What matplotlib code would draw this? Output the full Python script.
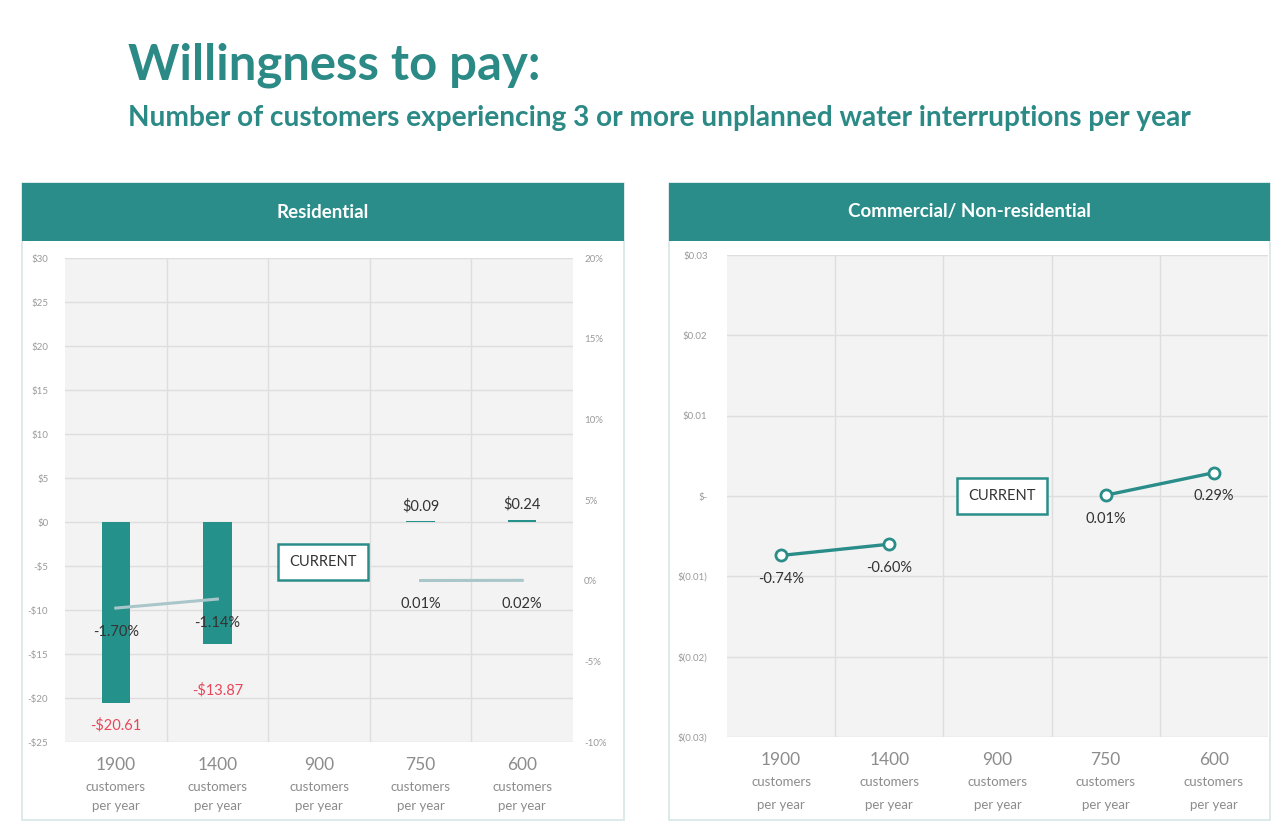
import numpy as np
import matplotlib
matplotlib.use("Agg")
import matplotlib.pyplot as plt
from matplotlib.patches import Rectangle

plt.rcParams['font.family'] = ['Lato', 'DejaVu Sans']

# data
categories = ['1900', '1400', '900', '750', '600']
res_wtp = [-20.61, -13.87, np.nan, 0.09, 0.24]
res_pct = [-1.70, -1.14, np.nan, 0.01, 0.02]
com_pct = [-0.74, -0.60, np.nan, 0.01, 0.29]

res_yticks = [30, 25, 20, 15, 10, 5, 0, -5, -10, -15, -20, -25]
res_pct_ticks = [20, 15, 10, 5, 0, -5, -10]
com_yticks = [0.03, 0.02, 0.01, 0.0, -0.01, -0.02, -0.03]
com_ylabels = ['$0.03', '$0.02', '$0.01', '$-', '$(0.01)', '$(0.02)', '$(0.03)']

TEAL = '#2a8d89'
BAR = '#25918b'
TITLE = '#2b8a86'
PLOTBG = '#f3f3f3'
GRID = '#dedede'
TICK = '#9a9a9a'
LABEL = '#333333'
RED = '#e8475a'
PCTLINE = '#a9c6ca'

W, H = 1279, 821
fig = plt.figure(figsize=(W / 100, H / 100), dpi=100)
fig.patch.set_facecolor('white')


def px_rect(x0, y0, x1, y1):
    # pixel box (top-left origin) -> figure fraction [l, b, w, h]
    return [x0 / W, 1 - y1 / H, (x1 - x0) / W, (y1 - y0) / H]


def fit_text(t, width_px):
    r = fig.canvas.get_renderer()
    w = t.get_window_extent(r).width
    t.set_fontsize(t.get_fontsize() * width_px / w)


# titles
t1 = fig.text(128 / W, 1 - 80 / H, 'Willingness to pay:', color=TITLE,
              fontsize=40, ha='left', va='baseline', fontweight='bold')
t2 = fig.text(128 / W, 1 - 126 / H,
              'Number of customers experiencing 3 or more unplanned water interruptions per year',
              color=TITLE, fontsize=20, ha='left', va='baseline', fontweight='bold')
fit_text(t1, 412)
fit_text(t2, 1064)

# panel frames and headers
for (x0, x1, name) in [(22, 624, 'Residential'), (669, 1270, 'Commercial/ Non-residential')]:
    l, b, w, h = px_rect(x0, 183, x1, 820)
    fig.patches.append(Rectangle((l, b), w, h, transform=fig.transFigure,
                                 facecolor='none', edgecolor='#d6e6e6', lw=1.2, zorder=-1))
    l, b, w, h = px_rect(x0, 183, x1, 241)
    fig.patches.append(Rectangle((l, b), w, h, transform=fig.transFigure,
                                 facecolor=TEAL, edgecolor='none', zorder=1))
    fig.text(l + w / 2, b + h / 2, name, color='white', fontsize=13.5,
             fontweight='bold', ha='center', va='center')

x = np.arange(len(categories))


def style_axes(ax):
    ax.set_facecolor(PLOTBG)
    ax.set_xlim(-0.5, len(categories) - 0.5)
    for s in ax.spines.values():
        s.set_visible(False)
    ax.tick_params(length=0, labelsize=7, labelcolor=TICK)
    ax.set_xticks([])
    for xv in x[:-1] + 0.5:
        ax.axvline(xv, color=GRID, lw=1, zorder=0)
    ax.grid(axis='y', color=GRID, lw=1, zorder=0)
    ax.set_axisbelow(True)


def cat_labels(ax, y0, y1, y2):
    tr = ax.get_xaxis_transform()
    for i, c in enumerate(categories):
        ax.text(i, y0, c, transform=tr, ha='center', va='center',
                fontsize=12.5, color='#8c8c8c', clip_on=False)
        ax.text(i, y1, 'customers', transform=tr, ha='center', va='center',
                fontsize=9.5, color='#8c8c8c', clip_on=False)
        ax.text(i, y2, 'per year', transform=tr, ha='center', va='center',
                fontsize=9.5, color='#8c8c8c', clip_on=False)


def current_label(ax, cy):
    ax.text(2.04, cy, 'CURRENT', ha='center', va='center', fontsize=10.5,
            color=LABEL, zorder=6,
            bbox=dict(boxstyle='square,pad=0.75', fc='white', ec=TEAL, lw=1.8))


# residential
axL = fig.add_axes(px_rect(65, 258, 573, 742))
style_axes(axL)
axL.set_ylim(-25, 30)
axL.set_yticks(res_yticks)
axL.set_yticklabels([f'${v}' if v >= 0 else f'-${-v}' for v in res_yticks])
axL.tick_params(pad=12)
axL.bar(x, res_wtp, width=0.28, color=BAR, zorder=3)

axR = axL.twinx()
axR.set_ylim(-10, 20)
axR.set_yticks(res_pct_ticks)
axR.set_yticklabels([f'{v}%' for v in res_pct_ticks])
for s in axR.spines.values():
    s.set_visible(False)
axR.tick_params(length=0, labelsize=7, labelcolor=TICK, pad=8)
axR.plot(x, res_pct, color=PCTLINE, lw=2.2, zorder=4)

for i, (v, p) in enumerate(zip(res_wtp, res_pct)):
    if np.isnan(v):
        continue
    if v < 0:
        off = -16 if i == 0 else -33
        axL.annotate(f'-${-v:.2f}', (i, v), xytext=(0, off), textcoords='offset points',
                     ha='center', va='center', color=RED, fontsize=10.5, zorder=6)
    else:
        axL.annotate(f'${v:.2f}', (i, v), xytext=(0, 11), textcoords='offset points',
                     ha='center', va='center', color=LABEL, fontsize=10.5, zorder=6)
    axR.annotate(f'{p:.2f}%', (i, p), xytext=(0, -17), textcoords='offset points',
                 ha='center', va='center', color=LABEL, fontsize=10.5, zorder=6)

current_label(axL, -4.5)
cat_labels(axL, -0.048, -0.092, -0.133)

# commercial / non-residential
axC = fig.add_axes(px_rect(727, 255, 1268, 737))
style_axes(axC)
axC.set_ylim(-0.03, 0.03)
axC.set_yticks(com_yticks)
axC.set_yticklabels(com_ylabels)
axC.tick_params(pad=14)
com_vals = np.array(com_pct) / 100
axC.plot(x, com_vals, color=TEAL, lw=2.4, marker='o', ms=8,
         mfc='white', mec=TEAL, mew=2, zorder=4)
for i, p in enumerate(com_pct):
    if np.isnan(p):
        continue
    axC.annotate(f'{p:.2f}%', (i, p / 100), xytext=(0, -17), textcoords='offset points',
                 ha='center', va='center', color=LABEL, fontsize=10.5, zorder=6)
current_label(axC, 0.0)
cat_labels(axC, -0.048, -0.094, -0.141)

fig.savefig('out.png', dpi=100, facecolor='white')
